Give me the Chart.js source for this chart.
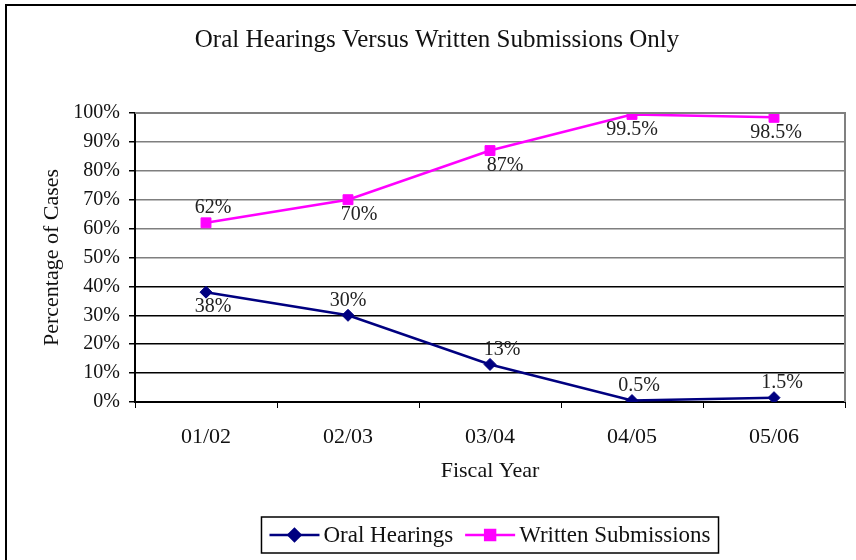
<!DOCTYPE html>
<html>
<head>
<meta charset="utf-8">
<script src="https://cdn.jsdelivr.net/npm/chart.js@4.4.1/dist/chart.umd.min.js"></script>
<style>
  html, body { margin: 0; padding: 0; background: #fff; }
  #wrap { width: 856px; height: 560px; }
</style>
</head>
<body>
<div id="wrap"><canvas id="chart" width="856" height="560"></canvas></div>
<script>
// data
const categories = ['01/02', '02/03', '03/04', '04/05', '05/06'];
const oralHearings = [38, 30, 13, 0.5, 1.5];
const writtenSubmissions = [62, 70, 87, 99.5, 98.5];
const yTickValues = [0, 10, 20, 30, 40, 50, 60, 70, 80, 90, 100];

// where each value label sits relative to its point
const oralLabelSide = ['below', 'above', 'above', 'above', 'above'];
const oralLabelShift = [7, 0, 12, 7, 8];
const writtenLabelSide = ['above', 'below', 'below', 'below', 'below'];
const writtenLabelShift = [7, 11, 15, 0, 2];

const FONT = '"Liberation Serif", "Times New Roman", serif';
const NAVY = '#000080';
const MAGENTA = '#ff00ff';

// title, frame, value labels and legend
const extras = {
  id: 'extras',
  beforeDraw(chart) {
    const ctx = chart.ctx;
    ctx.save();
    ctx.fillStyle = '#fff';
    ctx.fillRect(0, 0, chart.width, chart.height);
    ctx.restore();
  },
  afterDraw(chart) {
    const ctx = chart.ctx;
    const area = chart.chartArea;
    ctx.save();

    // outer frame (only left and top edges fall inside the picture)
    ctx.strokeStyle = '#000';
    ctx.lineWidth = 2;
    ctx.strokeRect(6, 5, 900, 600);

    // plot area border, top and right
    ctx.strokeStyle = '#808080';
    ctx.lineWidth = 2;
    ctx.beginPath();
    ctx.moveTo(area.left, area.top);
    ctx.lineTo(area.right, area.top);
    ctx.lineTo(area.right, area.bottom);
    ctx.stroke();

    // title
    ctx.fillStyle = '#111';
    ctx.font = '25px ' + FONT;
    ctx.textAlign = 'center';
    ctx.textBaseline = 'middle';
    ctx.fillText('Oral Hearings Versus Written Submissions Only', 437, 40);

    // value labels
    ctx.font = '20px ' + FONT;
    ctx.fillStyle = '#222';
    const sets = [
      { idx: 0, data: oralHearings, side: oralLabelSide, shift: oralLabelShift },
      { idx: 1, data: writtenSubmissions, side: writtenLabelSide, shift: writtenLabelShift }
    ];
    sets.forEach(s => {
      const meta = chart.getDatasetMeta(s.idx);
      meta.data.forEach((pt, i) => {
        const dy = s.side[i] === 'above' ? -15 : 15;
        ctx.fillText(s.data[i] + '%', pt.x + s.shift[i], pt.y + dy);
      });
    });

    // legend
    const items = chart.data.datasets.map(ds => ({
      text: ds.label, color: ds.borderColor, style: ds.pointStyle
    }));
    ctx.font = '23px ' + FONT;
    const lineLen = 50, gapAfterLine = 4, gapBetween = 12, padX = 8;
    let total = padX * 2;
    items.forEach((it, i) => {
      it.w = ctx.measureText(it.text).width;
      total += lineLen + gapAfterLine + it.w + (i < items.length - 1 ? gapBetween : 0);
    });
    const cx = (area.left + area.right) / 2;
    const boxTop = 517, boxH = 36;
    let x = cx - total / 2;
    ctx.strokeStyle = '#000';
    ctx.lineWidth = 1.5;
    ctx.strokeRect(x, boxTop, total, boxH);
    x += padX;
    const cy = boxTop + boxH / 2;
    ctx.textAlign = 'left';
    items.forEach(it => {
      ctx.strokeStyle = it.color;
      ctx.lineWidth = 2.5;
      ctx.beginPath();
      ctx.moveTo(x, cy);
      ctx.lineTo(x + lineLen, cy);
      ctx.stroke();
      Chart.helpers.drawPoint(ctx, {
        pointStyle: it.style, radius: it.style === 'rect' ? 7 : 6, borderWidth: 1
      }, x + lineLen / 2, cy);
      ctx.fillStyle = it.color;
      ctx.fill();
      x += lineLen + gapAfterLine;
      ctx.fillStyle = '#111';
      ctx.fillText(it.text, x, cy + 1);
      x += it.w + gapBetween;
    });

    ctx.restore();
  }
};

new Chart(document.getElementById('chart'), {
  type: 'line',
  data: {
    labels: categories,
    datasets: [
      {
        label: 'Oral Hearings',
        data: oralHearings,
        borderColor: NAVY,
        backgroundColor: NAVY,
        borderWidth: 2.5,
        pointStyle: 'rectRot',
        pointRadius: 6,
        pointBorderWidth: 1,
        tension: 0
      },
      {
        label: 'Written Submissions',
        data: writtenSubmissions,
        borderColor: MAGENTA,
        backgroundColor: MAGENTA,
        borderWidth: 2.5,
        pointStyle: 'rect',
        pointRadius: 7,
        pointBorderWidth: 1,
        tension: 0
      }
    ]
  },
  options: {
    responsive: false,
    animation: false,
    layout: { padding: { top: 113, left: 0, right: 11, bottom: 76 } },
    plugins: {
      legend: { display: false },
      title: { display: false },
      tooltip: { enabled: false }
    },
    scales: {
      x: {
        offset: true,
        afterFit: scale => { scale.height = 82; },
        grid: {
          offset: true,
          drawOnChartArea: false,
          drawTicks: true,
          tickLength: 6,
          tickColor: '#000'
        },
        border: { display: true, color: '#000', width: 2 },
        ticks: {
          color: '#111',
          padding: 16,
          maxRotation: 0,
          font: { family: FONT, size: 22 }
        },
        title: {
          display: true,
          text: 'Fiscal Year',
          color: '#111',
          padding: { top: 0, bottom: 0 },
          font: { family: FONT, size: 22 }
        }
      },
      y: {
        min: 0,
        max: 100,
        afterFit: scale => { scale.width = 135; },
        afterBuildTicks: scale => {
          scale.ticks = yTickValues.map(v => ({ value: v }));
        },
        grid: {
          color: c => (c.tick && c.tick.value >= 50 ? '#7f7f7f' : '#000'),
          lineWidth: 1.5,
          drawTicks: true,
          tickLength: 6,
          tickColor: '#000'
        },
        border: { display: true, color: '#000', width: 2 },
        ticks: {
          color: '#111',
          padding: 9,
          font: { family: FONT, size: 20 },
          callback: v => v + '%'
        },
        title: {
          display: true,
          text: 'Percentage of Cases',
          color: '#111',
          padding: { top: 39, bottom: 0 },
          font: { family: FONT, size: 22 }
        }
      }
    }
  },
  plugins: [extras]
});
</script>
</body>
</html>
